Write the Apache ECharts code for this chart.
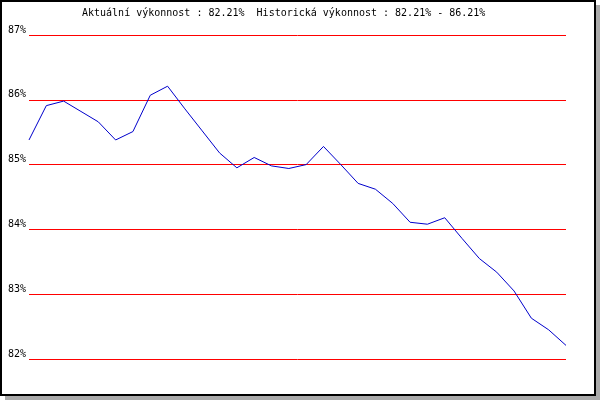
<!DOCTYPE html>
<html>
<head>
<meta charset="utf-8">
<script src="https://cdn.jsdelivr.net/npm/echarts@6/dist/echarts.min.js"></script>
<style>html,body{margin:0;padding:0;background:#fff}#c{width:600px;height:400px}</style>
</head>
<body>
<div id="c"></div>
<script>
var titleText = 'Aktuální výkonnost : 82.21%  Historická výkonnost : 82.21% - 86.21%';
var categories = ['1','2','3','4','5','6','7','8','9','10','11','12','13','14','15','16','17','18','19','20','21','22','23','24','25','26','27','28','29','30','31','32'];
var performance = [85.38,85.91,85.98,85.82,85.66,85.38,85.51,86.07,86.21,85.86,85.52,85.18,84.95,85.11,84.98,84.94,85.00,85.28,85.00,84.71,84.62,84.40,84.11,84.08,84.18,83.86,83.55,83.34,83.05,82.63,82.45,82.21];
var yMin = 82, yMax = 87, yStep = 1;

var chart = echarts.init(document.getElementById('c'), null, {renderer:'canvas'});
var font = 'DejaVu Sans Mono';
chart.setOption({
  animation: false,
  backgroundColor: 'transparent',
  graphic: [
    {type:'rect', z:-20, silent:true, shape:{x:5,y:5,width:595,height:395}, style:{fill:'#aaaaaa'}},
    {type:'rect', z:-19, silent:true, shape:{x:1,y:1,width:594,height:394}, style:{fill:'#ffffff', stroke:'#000000', lineWidth:2}},
    {type:'text', z:10, left:82, top:8, style:{text:titleText, font:'10px "DejaVu Sans Mono"', fill:'#000000'}}
  ],
  grid: {left:29, right:34, top:35, bottom:41, containLabel:false},
  xAxis: {type:'category', data:categories, boundaryGap:false, show:false},
  yAxis: {
    type:'value', min:yMin, max:yMax, interval:yStep,
    axisLine:{show:false}, axisTick:{show:false},
    splitLine:{show:true, lineStyle:{color:'#ff0000', width:1}},
    axisLabel:{formatter:'{value}%', fontFamily:font, fontSize:10, color:'#000000', margin:3, verticalAlign:'bottom'}
  },
  series: [{
    type:'line', data:performance, symbol:'none', smooth:false,
    lineStyle:{color:'#0000cc', width:1}
  }]
});
</script>
</body>
</html>
